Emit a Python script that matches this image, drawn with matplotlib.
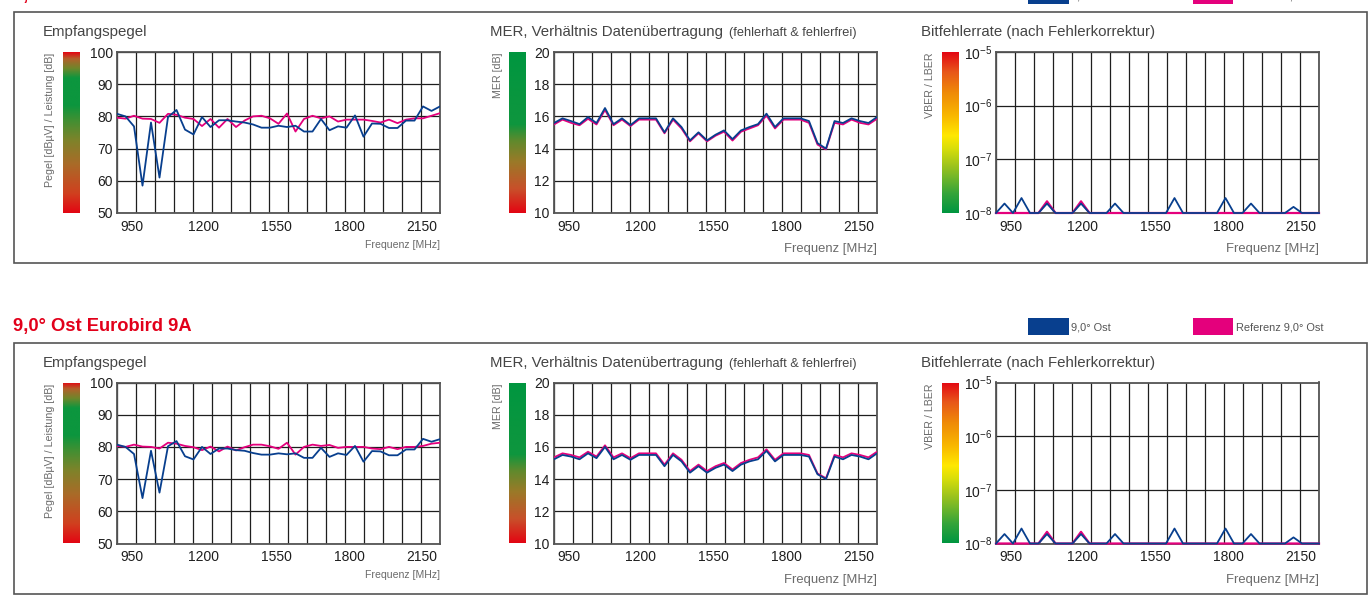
import numpy as np
import matplotlib
matplotlib.use("Agg")
import matplotlib.pyplot as plt
from matplotlib.colors import LinearSegmentedColormap
from matplotlib.patches import Rectangle
from matplotlib.ticker import FixedLocator, NullLocator

plt.rcParams['font.family'] = ['Liberation Sans', 'DejaVu Sans']
plt.rcParams['mathtext.fontset'] = 'custom'
plt.rcParams['mathtext.rm'] = 'Liberation Sans'
plt.rcParams['mathtext.it'] = 'Liberation Sans'

# ---------------- data ----------------
freq_tick_labels = ['950', '1200', '1550', '1800', '2150']

row_titles = ['4,8° Ost Astra 1E/4A', '9,0° Ost Eurobird 9A']
legend_sat = ['4,8° Ost', '9,0° Ost']
legend_ref = ['Referenz 4,8° Ost', 'Referenz 9,0° Ost']

pegel_48_sat = [80.8, 80.0, 76.9, 58.5, 78.1, 61.0, 79.8, 82.0, 75.9, 74.4, 79.8, 76.7, 78.8,
                78.8, 78.4, 78.1, 77.5, 76.5, 76.5, 77.1, 76.7, 77.1, 75.3, 75.3, 79.2, 75.7,
                76.9, 76.5, 80.3, 73.7, 77.8, 77.7, 76.4, 76.4, 78.7, 78.7, 83.1, 81.7, 83.1]
pegel_48_ref = [79.6, 79.3, 80.2, 79.3, 79.2, 78.0, 80.8, 80.5, 79.6, 79.2, 77.0, 79.2, 76.5,
                79.2, 76.7, 78.7, 80.0, 80.2, 79.4, 77.7, 80.9, 75.3, 79.2, 80.2, 79.4, 80.0,
                78.4, 79.0, 79.0, 79.0, 78.6, 78.1, 79.0, 77.9, 79.0, 79.4, 79.4, 80.2, 81.0]
pegel_90_sat = [80.7, 80.0, 77.8, 64.1, 78.8, 65.8, 80.2, 81.8, 77.1, 76.1, 80.0, 77.8, 79.5,
                79.5, 79.0, 78.8, 78.1, 77.6, 77.6, 78.0, 77.7, 78.0, 76.6, 76.6, 79.7, 76.9,
                78.0, 77.5, 80.3, 75.4, 78.7, 78.6, 77.4, 77.4, 79.2, 79.2, 82.5, 81.6, 82.4]
pegel_90_ref = [80.3, 80.0, 80.7, 80.1, 80.0, 79.5, 81.3, 81.0, 80.3, 79.9, 79.0, 80.1, 78.6,
                80.1, 78.9, 79.9, 80.7, 80.7, 80.2, 79.4, 81.3, 77.6, 80.0, 80.7, 80.3, 80.6,
                79.7, 80.0, 80.0, 80.0, 79.5, 79.3, 80.0, 79.3, 80.0, 80.0, 80.3, 81.0, 81.3]

mer_48_sat = [15.59, 15.88, 15.71, 15.52, 15.96, 15.59, 16.52, 15.52, 15.88, 15.46, 15.88, 15.88,
              15.88, 15.01, 15.88, 15.34, 14.51, 15.01, 14.51, 14.86, 15.13, 14.59, 15.13, 15.34,
              15.52, 16.17, 15.34, 15.88, 15.88, 15.88, 15.71, 14.34, 14.00, 15.71, 15.59, 15.88,
              15.71, 15.59, 15.96]
mer_48_ref = [15.50, 15.80, 15.60, 15.45, 15.85, 15.50, 16.40, 15.45, 15.80, 15.40, 15.80, 15.80,
              15.80, 14.95, 15.80, 15.25, 14.45, 14.95, 14.45, 14.80, 15.05, 14.50, 15.05, 15.25,
              15.45, 16.05, 15.25, 15.80, 15.80, 15.80, 15.60, 14.25, 13.95, 15.60, 15.50, 15.80,
              15.60, 15.50, 15.85]
mer_90_sat = [15.23, 15.50, 15.40, 15.23, 15.60, 15.30, 16.00, 15.23, 15.50, 15.20, 15.50, 15.50,
              15.50, 14.80, 15.50, 15.10, 14.40, 14.80, 14.40, 14.70, 14.90, 14.50, 14.90, 15.10,
              15.23, 15.75, 15.10, 15.50, 15.50, 15.50, 15.40, 14.30, 14.00, 15.40, 15.23, 15.50,
              15.40, 15.23, 15.60]
mer_90_ref = [15.35, 15.60, 15.50, 15.35, 15.70, 15.40, 16.10, 15.35, 15.60, 15.30, 15.60, 15.60,
              15.60, 14.90, 15.60, 15.20, 14.50, 14.90, 14.50, 14.80, 15.00, 14.60, 15.00, 15.20,
              15.35, 15.85, 15.20, 15.60, 15.60, 15.60, 15.50, 14.35, 14.05, 15.50, 15.35, 15.60,
              15.50, 15.35, 15.70]

# bit error rate in units of 1e-8
ber_48_sat = [1, 1.5, 1, 1.9, 1, 1, 1.5, 1, 1, 1, 1.5, 1, 1, 1, 1.5, 1, 1, 1, 1, 1, 1, 1.9, 1,
              1, 1, 1, 1, 1.9, 1, 1, 1.5, 1, 1, 1, 1, 1.3, 1, 1, 1]
ber_48_ref = [1, 1, 1, 1, 1, 1, 1.65, 1, 1, 1, 1.65, 1, 1, 1, 1, 1, 1, 1, 1, 1, 1, 1, 1,
              1, 1, 1, 1, 1, 1, 1, 1, 1, 1, 1, 1, 1, 1, 1, 1]
ber_90_sat = [1, 1.5, 1, 1.9, 1, 1, 1.5, 1, 1, 1, 1.5, 1, 1, 1, 1.5, 1, 1, 1, 1, 1, 1, 1.9, 1,
              1, 1, 1, 1, 1.9, 1, 1, 1.5, 1, 1, 1, 1, 1.3, 1, 1, 1]
ber_90_ref = [1, 1, 1, 1, 1, 1, 1.65, 1, 1, 1, 1.65, 1, 1, 1, 1, 1, 1, 1, 1, 1, 1, 1, 1,
              1, 1, 1, 1, 1, 1, 1, 1, 1, 1, 1, 1, 1, 1, 1, 1]

rows = [
    (pegel_48_sat, pegel_48_ref, mer_48_sat, mer_48_ref, ber_48_sat, ber_48_ref),
    (pegel_90_sat, pegel_90_ref, mer_90_sat, mer_90_ref, ber_90_sat, ber_90_ref),
]

# ---------------- style ----------------
W, H = 1368, 606
BLUE = '#083f8e'
PINK = '#e4007c'
RED = '#e2001a'
GRID = '#1e1e1e'
SPINE = '#555555'
TITLE_C = '#454545'
LABEL_C = '#6a6a6a'

fig = plt.figure(figsize=(W / 100, H / 100), dpi=100)
fig.patch.set_facecolor('white')


def add_ax(x0, y0, x1, y1):
    return fig.add_axes([x0 / W, 1 - y1 / H, (x1 - x0) / W, (y1 - y0) / H])


def ftext(x, y, s, **kw):
    return fig.text(x / W, 1 - y / H, s, **kw)


cmap_pegel = LinearSegmentedColormap.from_list('pegel', [
    (0.00, '#e30613'), (0.12, '#d0401f'), (0.30, '#aa6a28'), (0.45, '#7f832a'),
    (0.58, '#3f9033'), (0.67, '#0c963e'), (0.84, '#0c963e'), (0.90, '#6e872b'),
    (0.96, '#b3602a'), (1.00, '#e30613')])
cmap_mer = LinearSegmentedColormap.from_list('mer', [
    (0.00, '#e30613'), (0.15, '#c8502a'), (0.32, '#9a7a28'), (0.45, '#5f8a2d'),
    (0.55, '#0f963e'), (1.00, '#009640')])
cmap_ber = LinearSegmentedColormap.from_list('ber', [
    (0.00, '#009640'), (0.12, '#35a43a'), (0.28, '#96c11f'), (0.40, '#d8de0a'),
    (0.48, '#ffe800'), (0.60, '#f9b900'), (0.75, '#ef8a08'), (0.88, '#e8561a'),
    (1.00, '#e30613')])

x_idx = np.arange(len(pegel_48_sat))
x_max = x_idx[-1]
col_edges = np.linspace(0, x_max, 18)
tick_pos = [1.8, 10.2, 18.7, 27.3, 35.9]

panels = [
    # colorbar x0,x1, axes x0,x1, ylabel x, title x, title, ylabel, cmap
    dict(cb=(63, 80), ax=(117, 440), ylx=50, tx=43, cmap=cmap_pegel,
         title='Empfangspegel', ylabel='Pegel [dBµV] / Leistung [dB]', fsize=7.6),
    dict(cb=(509, 526), ax=(554, 877), ylx=498, tx=490, cmap=cmap_mer,
         title='MER, Verhältnis Datenübertragung', ylabel='MER [dB]', fsize=9.4),
    dict(cb=(942, 959), ax=(996, 1319), ylx=930, tx=921, cmap=cmap_ber,
         title='Bitfehlerrate (nach Fehlerkorrektur)', ylabel='VBER / LBER', fsize=9.4),
]

row_dy = [0, 330.5]

for r, dy in enumerate(row_dy):
    data = rows[r]
    # frame box
    fig.add_artist(Rectangle((14 / W, 1 - (263 + dy) / H), (1366.5 - 14) / W, 251 / H,
                             transform=fig.transFigure, fill=False, ec=SPINE, lw=1.2))
    # row title
    ftext(13, 326 + dy - 330.5, row_titles[r], ha='left', va='center', color=RED,
          fontsize=13.2, fontweight='bold')
    # legend
    ly = 326 + dy - 330.5
    fig.add_artist(Rectangle((1028 / W, 1 - (ly + 8.5) / H), 41 / W, 17 / H,
                             transform=fig.transFigure, fc=BLUE, ec='none'))
    ftext(1071, ly + 1, legend_sat[r], ha='left', va='center', color='#555555', fontsize=7.9)
    fig.add_artist(Rectangle((1193 / W, 1 - (ly + 8.5) / H), 40 / W, 17 / H,
                             transform=fig.transFigure, fc=PINK, ec='none'))
    ftext(1236, ly + 1, legend_ref[r], ha='left', va='center', color='#555555', fontsize=7.9)

    for p, pan in enumerate(panels):
        top, bot = 52 + dy, 213 + dy
        # gradient bar
        cax = add_ax(pan['cb'][0], top, pan['cb'][1], bot)
        cax.imshow(np.linspace(1, 0, 256)[:, None], aspect='auto', cmap=pan['cmap'],
                   vmin=0, vmax=1)
        cax.set_axis_off()

        ax = add_ax(pan['ax'][0], top, pan['ax'][1], bot)
        sat, ref = data[2 * p], data[2 * p + 1]
        if p == 2:
            ax.set_yscale('log')
            ax.plot(x_idx, np.array(ref) * 1e-8, color=PINK, lw=1.6, clip_on=False, zorder=3)
            ax.plot(x_idx, np.array(sat) * 1e-8, color=BLUE, lw=1.3, clip_on=False, zorder=4)
            ax.set_ylim(1e-8, 1e-5)
            ax.yaxis.set_major_locator(FixedLocator([1e-8, 1e-7, 1e-6, 1e-5]))
            ax.yaxis.set_minor_locator(NullLocator())
            ax.set_yticklabels([r'$\mathregular{10^{-8}}$', r'$\mathregular{10^{-7}}$',
                                r'$\mathregular{10^{-6}}$', r'$\mathregular{10^{-5}}$'])
        else:
            ax.plot(x_idx, ref, color=PINK, lw=1.3, zorder=3)
            ax.plot(x_idx, sat, color=BLUE, lw=1.3, zorder=4)
            if p == 0:
                ax.set_ylim(50, 100)
                ax.set_yticks([50, 60, 70, 80, 90, 100])
            else:
                ax.set_ylim(10, 20)
                ax.set_yticks([10, 12, 14, 16, 18, 20])
        ax.set_xlim(0, x_max)
        ax.set_xticks(tick_pos)
        ax.set_xticklabels(freq_tick_labels)
        ax.set_xticks(col_edges, minor=True)
        ax.grid(which='minor', axis='x', color=GRID, lw=0.9)
        ax.grid(which='major', axis='y', color=GRID, lw=0.9)
        ax.set_axisbelow(True)
        ax.tick_params(which='both', length=0, labelsize=10, colors='#1e1e1e')
        ax.tick_params(axis='x', pad=5)
        ax.tick_params(axis='y', pad=3)
        for s in ax.spines.values():
            s.set_color(SPINE)
            s.set_linewidth(1.3)

        # panel title
        t = ftext(pan['tx'], 32 + dy, pan['title'], ha='left', va='center', color=TITLE_C,
                  fontsize=10.8)
        if p == 1:
            ftext(729, 33 + dy, '(fehlerhaft & fehlerfrei)', ha='left', va='center',
                  color=TITLE_C, fontsize=9.2)
        # y label
        ftext(pan['ylx'], top + 1, pan['ylabel'], rotation=90, ha='center', va='top',
              color=LABEL_C, fontsize=7.7)
        # x label
        fy_lab = 245 if p == 0 else 249
        ftext(pan['ax'][1], fy_lab + dy, 'Frequenz [MHz]', ha='right', va='center',
              color=LABEL_C, fontsize=pan['fsize'])

fig.savefig('out.png', dpi=100, facecolor='white')
